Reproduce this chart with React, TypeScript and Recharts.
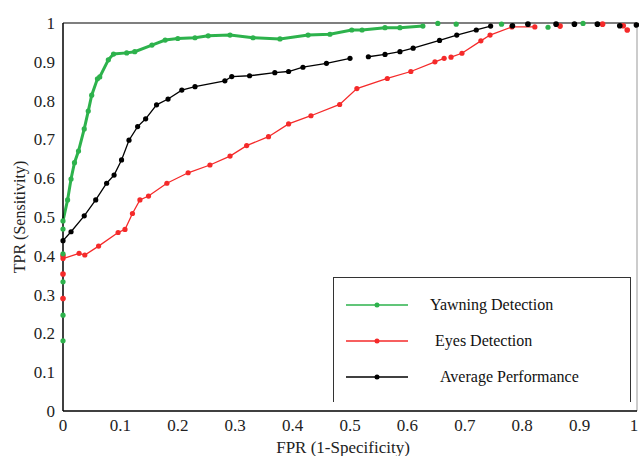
import { LineChart, Line, XAxis, YAxis, ReferenceLine, Label } from 'recharts';

type Pt = { x: number; y: number | null };

const xTicks = [0, 0.1, 0.2, 0.3, 0.4, 0.5, 0.6, 0.7, 0.8, 0.9, 1];
const yTicks = [0, 0.1, 0.2, 0.3, 0.4, 0.5, 0.6, 0.7, 0.8, 0.9, 1];

const yawningCurve: Pt[] = [
  { x: 0, y: 0.49 }, { x: 0.008, y: 0.544 }, { x: 0.014, y: 0.598 }, { x: 0.02, y: 0.64 },
  { x: 0.027, y: 0.67 }, { x: 0.037, y: 0.727 }, { x: 0.044, y: 0.773 }, { x: 0.05, y: 0.814 },
  { x: 0.06, y: 0.856 }, { x: 0.064, y: 0.861 }, { x: 0.079, y: 0.905 }, { x: 0.088, y: 0.92 },
  { x: 0.111, y: 0.923 }, { x: 0.125, y: 0.926 }, { x: 0.155, y: 0.943 }, { x: 0.178, y: 0.956 },
  { x: 0.2, y: 0.96 }, { x: 0.23, y: 0.962 }, { x: 0.253, y: 0.967 }, { x: 0.291, y: 0.969 },
  { x: 0.331, y: 0.962 }, { x: 0.378, y: 0.959 }, { x: 0.427, y: 0.969 }, { x: 0.465, y: 0.971 },
  { x: 0.503, y: 0.982 }, { x: 0.521, y: 0.982 }, { x: 0.561, y: 0.988 }, { x: 0.587, y: 0.988 },
  { x: 0.627, y: 0.992 },
];
const yawningExtra: Pt[] = [
  { x: 0, y: 0.469 }, { x: 0, y: 0.405 }, { x: 0, y: 0.333 }, { x: 0, y: 0.247 }, { x: 0, y: 0.181 },
  { x: 0.653, y: 0.999 }, { x: 0.685, y: 0.997 }, { x: 0.764, y: 0.997 }, { x: 0.845, y: 0.989 },
  { x: 0.906, y: 0.999 },
];

const eyesCurve: Pt[] = [
  { x: 0, y: 0.393 }, { x: 0.028, y: 0.406 }, { x: 0.038, y: 0.402 }, { x: 0.062, y: 0.425 },
  { x: 0.096, y: 0.46 }, { x: 0.108, y: 0.468 }, { x: 0.121, y: 0.509 }, { x: 0.134, y: 0.544 },
  { x: 0.149, y: 0.554 }, { x: 0.181, y: 0.587 }, { x: 0.218, y: 0.614 }, { x: 0.256, y: 0.634 },
  { x: 0.291, y: 0.657 }, { x: 0.32, y: 0.684 }, { x: 0.358, y: 0.707 }, { x: 0.393, y: 0.74 },
  { x: 0.432, y: 0.761 }, { x: 0.482, y: 0.79 }, { x: 0.512, y: 0.831 }, { x: 0.565, y: 0.857 },
  { x: 0.606, y: 0.875 }, { x: 0.648, y: 0.9 }, { x: 0.664, y: 0.909 }, { x: 0.669, y: null },
  { x: 0.676, y: 0.912 }, { x: 0.695, y: 0.922 }, { x: 0.728, y: 0.954 }, { x: 0.744, y: 0.969 },
  { x: 0.782, y: 0.99 }, { x: 0.822, y: 0.99 },
];
const eyesExtra: Pt[] = [
  { x: 0, y: 0.4 }, { x: 0, y: 0.353 }, { x: 0, y: 0.29 }, { x: 0.866, y: 0.992 },
  { x: 0.94, y: 0.997 }, { x: 0.976, y: 0.993 }, { x: 0.983, y: 0.982 },
];

const averageCurve: Pt[] = [
  { x: 0, y: 0.439 }, { x: 0.014, y: 0.462 }, { x: 0.037, y: 0.503 }, { x: 0.057, y: 0.544 },
  { x: 0.076, y: 0.587 }, { x: 0.089, y: 0.608 }, { x: 0.102, y: 0.647 }, { x: 0.115, y: 0.698 },
  { x: 0.13, y: 0.733 }, { x: 0.144, y: 0.753 }, { x: 0.163, y: 0.789 }, { x: 0.183, y: 0.804 },
  { x: 0.207, y: 0.827 }, { x: 0.23, y: 0.836 }, { x: 0.282, y: 0.851 }, { x: 0.294, y: 0.862 },
  { x: 0.325, y: 0.864 }, { x: 0.369, y: 0.872 }, { x: 0.393, y: 0.875 }, { x: 0.418, y: 0.886 },
  { x: 0.459, y: 0.896 }, { x: 0.5, y: 0.909 }, { x: 0.516, y: null }, { x: 0.532, y: 0.913 },
  { x: 0.561, y: 0.919 }, { x: 0.587, y: 0.926 }, { x: 0.61, y: 0.935 }, { x: 0.656, y: 0.955 },
  { x: 0.686, y: 0.969 }, { x: 0.72, y: 0.982 }, { x: 0.745, y: 0.992 },
];
const averageExtra: Pt[] = [
  { x: 0.783, y: 0.993 }, { x: 0.81, y: 0.997 }, { x: 0.859, y: 0.997 }, { x: 0.891, y: 0.997 },
  { x: 0.931, y: 0.997 }, { x: 0.97, y: 0.993 }, { x: 0.999, y: 0.995 },
];

const legendItems = [
  { name: 'Yawning Detection', color: '#2db24c', indent: 0 },
  { name: 'Eyes Detection', color: '#f52a2a', indent: 5 },
  { name: 'Average Performance', color: '#000000', indent: 10 },
];

const GREEN = '#2db24c';
const RED = '#f52a2a';
const BLACK = '#000000';
const FONT = '"Liberation Serif", "Times New Roman", serif';

function makeDot(color: string, r: number) {
  return (props: any) => {
    const { cx, cy, index, payload } = props;
    if (cx == null || cy == null || payload?.y == null) return <g key={`d-${index}`} />;
    return <circle key={`d-${index}`} cx={cx} cy={cy} r={r} fill={color} stroke="none" />;
  };
}

// last label would spill past the right edge, so nudge it in
function XTick(props: any) {
  const { x, y, payload } = props;
  const last = payload.value === 1;
  return (
    <text x={last ? x - 3 : x} y={y} dy="0.71em" textAnchor="middle" fontFamily={FONT} fontSize={17} fill="#222">
      {String(payload.value)}
    </text>
  );
}

function ChartLegend() {
  return (
    <div
      style={{
        position: 'absolute',
        left: 333,
        top: 277,
        width: 296,
        height: 124,
        borderTop: '1.5px solid #333',
        borderLeft: '1.5px solid #333',
        borderRight: '1.5px solid #333',
        background: '#fff',
        fontFamily: FONT,
        fontSize: 16,
        color: '#111',
      }}
    >
      {legendItems.map((item, i) => (
        <div
          key={item.name}
          style={{ position: 'absolute', left: 12, top: 17 + i * 36, height: 20, display: 'flex', alignItems: 'center' }}
        >
          <svg width={64} height={8}>
            <line x1={0} y1={4} x2={62} y2={4} stroke={item.color} strokeWidth={1.5} />
            <circle cx={31} cy={4} r={2.5} fill={item.color} />
          </svg>
          <span style={{ marginLeft: 20 + item.indent, whiteSpace: 'nowrap' }}>{item.name}</span>
        </div>
      ))}
    </div>
  );
}

export default function App() {
  return (
    <div style={{ position: 'relative', width: 639, height: 456, background: '#fff' }}>
      <style>{'body{margin:0}'}</style>
      <LineChart width={639} height={456} margin={{ top: 23, right: 2, bottom: 20, left: 23 }}>
        <XAxis
          type="number"
          dataKey="x"
          domain={[0, 1]}
          ticks={xTicks}
          interval={0}
          height={25}
          stroke="#000"
          strokeWidth={1.5}
          tickLine={false}
          tick={<XTick />}
          allowDuplicatedCategory={false}
        >
          <Label
            content={() => (
              <text x={343} y={453} textAnchor="middle" fontFamily={FONT} fontSize={17} fill="#222">
                FPR (1-Specificity)
              </text>
            )}
          />
        </XAxis>
        <YAxis
          type="number"
          domain={[0, 1]}
          ticks={yTicks}
          interval={0}
          width={40}
          stroke="#000"
          strokeWidth={1.5}
          tickLine={false}
          tick={{ fill: '#222', fontSize: 17, fontFamily: FONT }}
        >
          <Label
            content={() => (
              <text
                x={25}
                y={217}
                transform="rotate(-90 25 217)"
                textAnchor="middle"
                fontFamily={FONT}
                fontSize={16}
                fill="#222"
              >
                TPR (Sensitivity)
              </text>
            )}
          />
        </YAxis>
        <ReferenceLine y={1} stroke="#555" strokeWidth={1.5} />
        <ReferenceLine x={1} stroke="#999" strokeWidth={1} />
        <Line data={eyesCurve} dataKey="y" type="linear" stroke={RED} strokeWidth={1.3} dot={makeDot(RED, 2.6)} isAnimationActive={false} />
        <Line data={eyesExtra} dataKey="y" type="linear" stroke="none" dot={makeDot(RED, 2.8)} isAnimationActive={false} />
        <Line data={averageCurve} dataKey="y" type="linear" stroke={BLACK} strokeWidth={1.3} dot={makeDot(BLACK, 2.6)} isAnimationActive={false} />
        <Line data={averageExtra} dataKey="y" type="linear" stroke="none" dot={makeDot(BLACK, 2.8)} isAnimationActive={false} />
        <Line data={yawningCurve} dataKey="y" type="linear" stroke={GREEN} strokeWidth={3} dot={makeDot(GREEN, 2.6)} isAnimationActive={false} />
        <Line data={yawningExtra} dataKey="y" type="linear" stroke="none" dot={makeDot(GREEN, 2.6)} isAnimationActive={false} />
      </LineChart>
      <ChartLegend />
    </div>
  );
}
